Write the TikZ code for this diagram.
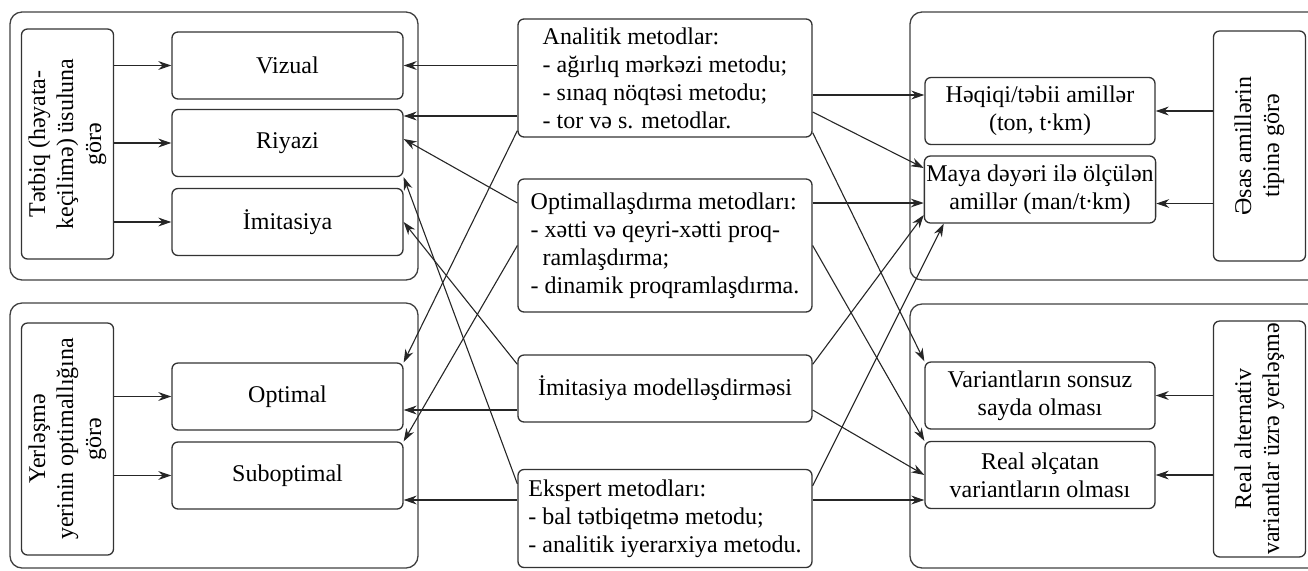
\documentclass[tikz,border=0pt]{standalone}
\usepackage{fontspec}
\setmainfont{Liberation Serif}
\usetikzlibrary{arrows.meta,calc}

\tikzset{
  grp/.style={draw=black!75, line width=0.65pt, rounded corners=6pt},
  box/.style={draw=black!80, line width=0.65pt, rounded corners=3pt, align=center, inner sep=1pt, font=\fontsize{12}{14}\selectfont},
  lbl/.style={box, rotate=90, minimum width=115pt, minimum height=46pt},
  sbox/.style={box, minimum width=115.5pt, minimum height=33.5pt},
  mbox/.style={box, align=left, minimum width=147pt},
  arr/.style={black!85, line width=0.55pt, -{Stealth[length=6.5pt,width=4.4pt]}},
}

\begin{document}
\begin{tikzpicture}[x=0.5pt,y=-0.5pt]
  \useasboundingbox (0,0) rectangle (1308,570);
  \clip (0,0) rectangle (1308,570);

  % qruplar
  \draw[grp] (10,12) rectangle (418,280);
  \draw[grp] (10,303) rectangle (418,568);
  \draw[grp] (910,12) rectangle (1330,280);
  \draw[grp] (910,304) rectangle (1330,568);

  % sol tərəf
  \node[lbl] (L1) at (67.5,144) {Tətbiq (həyata-\\keçilimə) üsuluna\\görə};
  \node[sbox] (viz) at (287.5,65.5) {Vizual};
  \node[sbox] (riy) at (287.5,143) {Riyazi};
  \node[sbox] (imi) at (287.5,222) {İmitasiya};
  \node[lbl, minimum width=116pt] (L2) at (67.5,439) {Yerləşmə\\yerinin optimallığına\\görə};
  \node[sbox] (opm) at (287.5,396.5) {Optimal};
  \node[sbox] (sub) at (287.5,475.5) {Suboptimal};

  % mərkəz
  \node[mbox, minimum height=59pt] (an) at (665,78) {Analitik metodlar:\\- ağırlıq mərkəzi metodu;\\- sınaq nöqtəsi metodu;\\- tor və s. metodlar.};
  \node[mbox, minimum height=66.5pt] (opt) at (665,245.5) {Optimallaşdırma metodları:\\- xətti və qeyri-xətti proq-\\\hspace*{6pt}ramlaşdırma;\\- dinamik proqramlaşdırma.};
  \node[mbox, align=center, minimum height=33.5pt] (imm) at (665,388.5) {İmitasiya modelləşdirməsi};
  \node[mbox, minimum height=49pt] (eks) at (665,518.5) {Ekspert metodları:\\- bal tətbiqetmə metodu;\\- analitik iyerarxiya metodu.};

  % sağ tərəf
  \node[lbl] (R1) at (1259.5,146) {Əsas amillərin\\tipinə görə};
  \node[sbox, minimum width=115pt] (heq) at (1040,111) {Həqiqi/təbii amillər\\(ton, t∙km)};
  \node[sbox, minimum width=115pt] (may) at (1040,189.5) {Maya dəyəri ilə ölçülən\\amillər (man/t∙km)};
  \node[lbl, minimum width=116pt] (R2) at (1259.5,439) {Real alternativ\\variantlar üzrə yerləşmə};
  \node[sbox, minimum width=115pt] (var) at (1040,395.5) {Variantların sonsuz\\sayda olması};
  \node[sbox, minimum width=115pt] (rea) at (1040,475) {Real əlçatan\\variantların olması};

  % uc nöqtələr
  \coordinate (r1) at ([yshift=13.5pt]riy.east);
  \coordinate (r2) at ([yshift=2pt]riy.east);
  \coordinate (o2) at ([yshift=-6.75pt]opm.east);
  \coordinate (s2) at ([yshift=-12.25pt]sub.east);
  \coordinate (h1) at ([yshift=8pt]heq.west);
  \coordinate (m0) at ([yshift=-7pt]may.east);
  \coordinate (m1) at ([yshift=10.75pt]may.west);
  \coordinate (m2) at ([yshift=-6.75pt]may.west);
  \coordinate (m3) at ([yshift=-12.75pt]may.west);
  \coordinate (m4) at ([xshift=10pt]may.south west);
  \coordinate (e2) at ([yshift=-12.5pt]rea.west);

  % qrup oxları
  \draw[arr] (L1.south |- viz.west) -- (viz.west);
  \draw[arr] (L1.south |- riy.west) -- (riy.west);
  \draw[arr] (L1.south |- imi.west) -- (imi.west);
  \draw[arr] (L2.south |- opm.west) -- (opm.west);
  \draw[arr] (L2.south |- sub.west) -- (sub.west);
  \draw[arr] (R1.north |- heq.east) -- (heq.east);
  \draw[arr] (R1.north |- m0) -- (m0);
  \draw[arr] (R2.north |- var.east) -- (var.east);
  \draw[arr] (R2.north |- rea.east) -- (rea.east);

  % metodlardan oxlar
  \draw[arr] (an.west |- viz.east) -- (viz.east);
  \draw[arr] (an.west |- r1) -- (r1);
  \draw[arr] ([yshift=3.5pt]an.south west) -- (opm.north east);
  \draw[arr] (an.east |- h1) -- (h1);
  \draw[arr] ([yshift=-17pt]an.east) -- (m1);
  \draw[arr] ([yshift=2.5pt]an.south east) -- (var.north west);

  \draw[arr] ([yshift=21.25pt]opt.west) -- (r2);
  \draw[arr] (opt.west) -- (sub.north east);
  \draw[arr] (opt.east |- m2) -- (m2);
  \draw[arr] (opt.east) -- (rea.north west);

  \draw[arr] ([yshift=-5pt]imm.north west) -- (imi.east);
  \draw[arr] (imm.west |- o2) -- (o2);
  \draw[arr] ([yshift=-5pt]imm.north east) -- (m3);
  \draw[arr] ([yshift=-10.75pt]imm.east) -- (rea.west);

  \draw[arr] ([yshift=-7.5pt]eks.north west) -- (riy.south east);
  \draw[arr] (eks.west |- s2) -- (s2);
  \draw[arr] (eks.east |- e2) -- (e2);
  \draw[arr] ([yshift=-8.5pt]eks.north east) -- (m4);
\end{tikzpicture}
\end{document}
